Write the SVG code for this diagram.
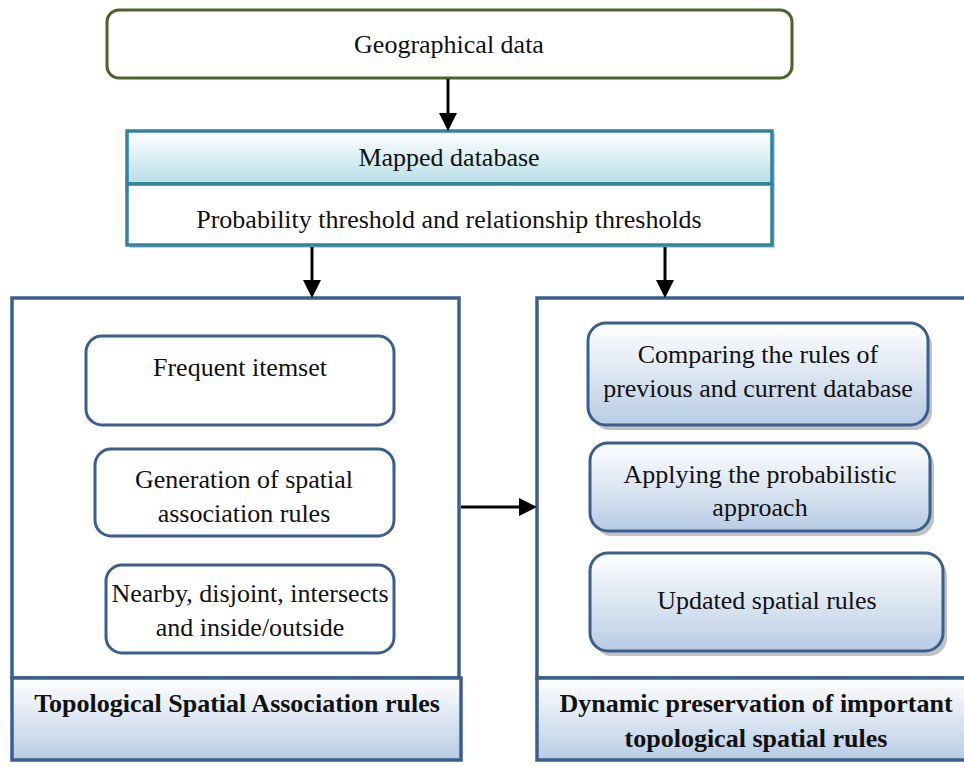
<svg xmlns="http://www.w3.org/2000/svg" width="964" height="767" viewBox="0 0 964 767">
<style>
text{font-family:"Liberation Serif","Times New Roman",serif;font-size:26px;fill:#111;text-anchor:middle}
.b{font-weight:bold}
.inner{fill:#fff;stroke:#3A5F8F;stroke-width:3}
.innerg{fill:url(#gb);stroke:#3A5F8F;stroke-width:3}
.sh{fill:#9a9a9a;opacity:.6}
.big{fill:#fff;stroke:#3A5F8F;stroke-width:3.5}
.lab{fill:url(#gb);stroke:#3A5F8F;stroke-width:3.5}
.conn{stroke:#000;stroke-width:3;fill:none;marker-end:url(#ah)}
</style>
<defs>
<linearGradient id="gb" x1="0" y1="0" x2="0" y2="1"><stop offset="0" stop-color="#fff"/><stop offset="1" stop-color="#B8CCE4"/></linearGradient>
<linearGradient id="gt" x1="0" y1="0" x2="0" y2="1"><stop offset="0" stop-color="#fff"/><stop offset="1" stop-color="#B7DEE8"/></linearGradient>
<marker id="ah" markerWidth="6" markerHeight="6" refX="5" refY="3" orient="auto" markerUnits="strokeWidth"><path d="M0,0 L6,3 L0,6 z" fill="#000"/></marker>
</defs>
<g id="geo">
<rect x="107" y="10" width="685" height="68" rx="12" fill="#fff" stroke="#4F6228" stroke-width="3"/>
<text x="449" y="53">Geographical data</text>
</g>
<g id="mapped">
<rect x="130" y="134" width="645" height="114" fill="#8aa" opacity=".5"/>
<rect x="127" y="131" width="645" height="53" fill="url(#gt)" stroke="#31849B" stroke-width="3.5"/>
<rect x="127" y="184" width="645" height="61" fill="#fff" stroke="#31849B" stroke-width="3.5"/>
<text x="449" y="166">Mapped database</text>
<text x="449" y="228">Probability threshold and relationship thresholds</text>
</g>
<g id="left">
<rect class="big" x="12" y="298" width="447" height="380"/>
<rect class="lab" x="12" y="678" width="449" height="82"/>
<text class="b" x="237" y="712">Topological Spatial Association rules</text>
</g>
<g id="frequent">
<rect class="inner" x="86" y="336" width="308" height="89" rx="16"/>
<text x="240" y="376">Frequent itemset</text>
</g>
<g id="generation">
<rect class="inner" x="95" y="449" width="299" height="87" rx="16"/>
<text x="244" y="488">Generation of spatial</text>
<text x="244" y="522">association rules</text>
</g>
<g id="nearby">
<rect class="inner" x="106" y="565" width="288" height="88" rx="16"/>
<text x="250" y="602">Nearby, disjoint, intersects</text>
<text x="250" y="636">and inside/outside</text>
</g>
<g id="right">
<rect class="big" x="537" y="298" width="430" height="380"/>
<rect class="lab" x="537" y="678" width="430" height="82"/>
<text class="b" x="756" y="712">Dynamic preservation of important</text>
<text class="b" x="756" y="747">topological spatial rules</text>
</g>
<g id="comparing">
<rect class="sh" x="592" y="328" width="340" height="102" rx="18"/>
<rect class="innerg" x="588" y="323" width="340" height="102" rx="18"/>
<text x="758" y="363">Comparing the rules of</text>
<text x="758" y="397">previous and current database</text>
</g>
<g id="applying">
<rect class="sh" x="594" y="448" width="340" height="88" rx="18"/>
<rect class="innerg" x="590" y="443" width="340" height="88" rx="18"/>
<text x="760" y="483">Applying the probabilistic</text>
<text x="760" y="516">approach</text>
</g>
<g id="updated">
<rect class="sh" x="594" y="558" width="353" height="98" rx="18"/>
<rect class="innerg" x="590" y="553" width="353" height="98" rx="18"/>
<text x="767" y="609">Updated spatial rules</text>
</g>
<g id="connectors">
<line class="conn" x1="448" y1="79" x2="448" y2="128"/>
<line class="conn" x1="312" y1="247" x2="312" y2="295"/>
<line class="conn" x1="665" y1="247" x2="665" y2="295"/>
<line class="conn" x1="461" y1="507" x2="534" y2="507"/>
</g>
</svg>
